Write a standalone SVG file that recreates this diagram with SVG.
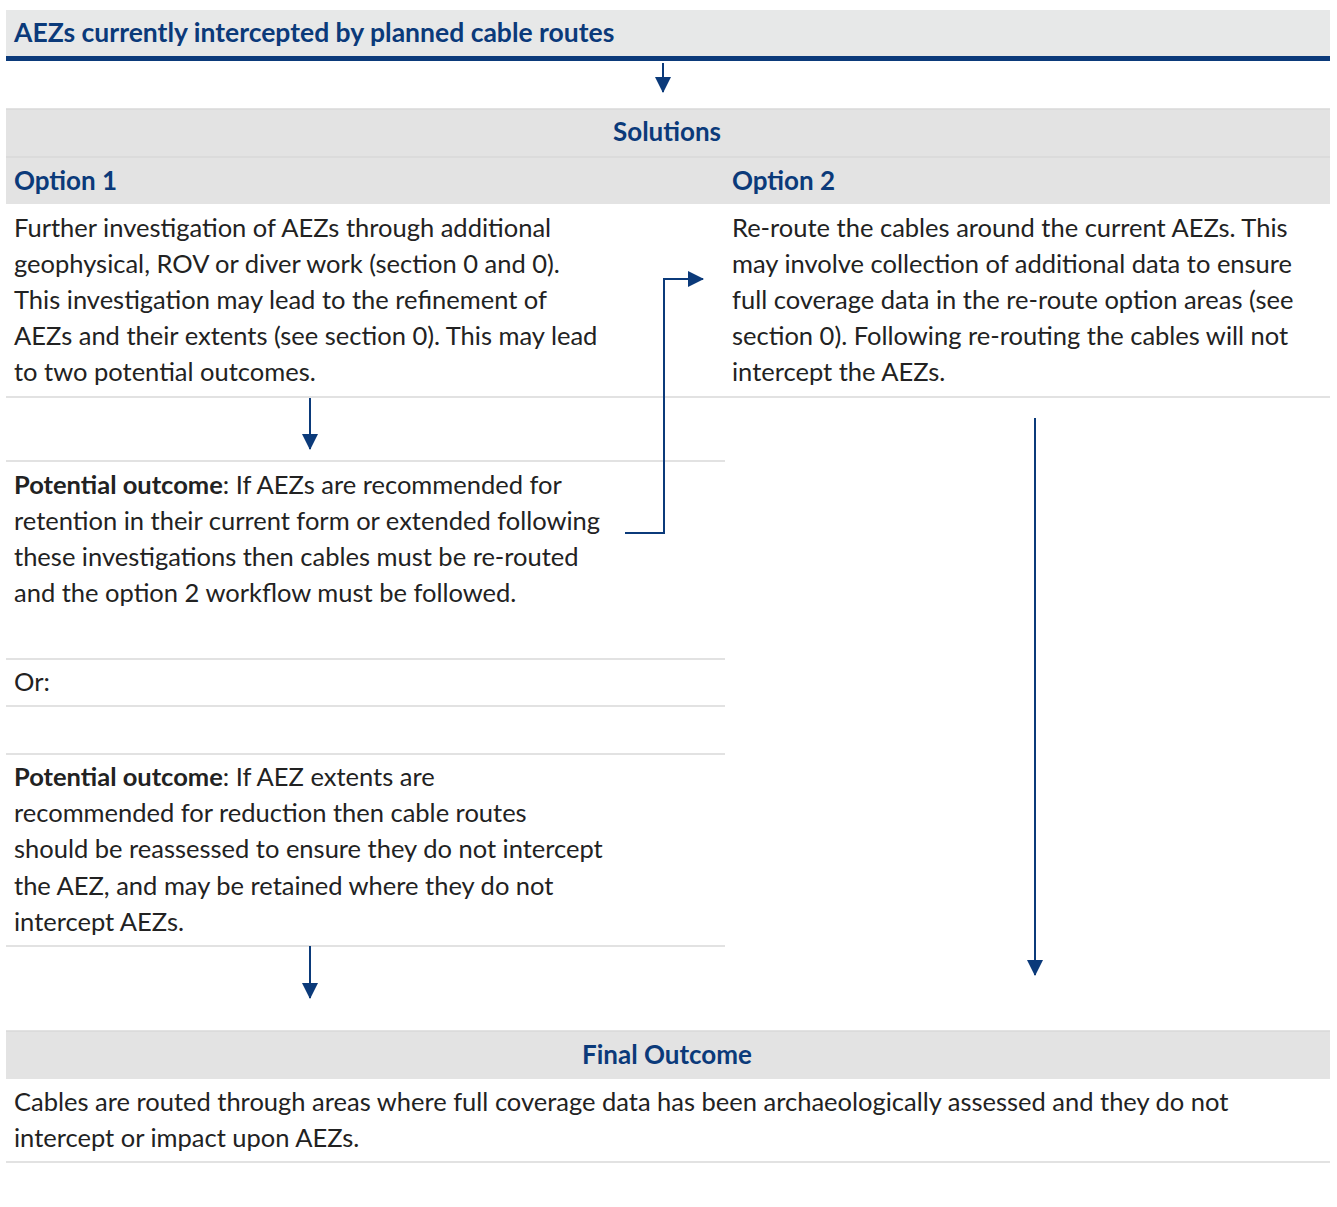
<svg xmlns="http://www.w3.org/2000/svg" width="1337" height="1207" viewBox="0 0 1337 1207">
<style>
.t{font-family:Lato,"Noto Sans","Liberation Sans",sans-serif;font-size:25.5px;fill:#222}
.h{font-family:Lato,"Noto Sans","Liberation Sans",sans-serif;font-size:26px;font-weight:bold;fill:#0b3a7a}
.ht{font-size:26.5px}
.b{font-weight:bold}
.sep{stroke:#d9d9d9;stroke-width:1.5}
.band{fill:#e3e3e3}
.con{stroke:#0b3a7a;stroke-width:2;fill:none}
</style>
<defs>
<marker id="ah2" markerWidth="16" markerHeight="16" refX="15" refY="8" orient="auto" markerUnits="userSpaceOnUse" viewBox="0 0 16 16"><path d="M0,0 L16,8 L0,16 Z" fill="#0b3a7a"/></marker>
</defs>
<rect width="1337" height="1207" fill="#fff"/>
<g id="header">
<rect x="6" y="10" width="1324" height="47" fill="#e7e8e8"/>
<rect x="6" y="56" width="1324" height="5" fill="#0b3a7a"/>
<text class="h ht" x="14" y="42">AEZs currently intercepted by planned cable routes</text>
</g>
<g id="solutions">
<rect class="band" x="6" y="109" width="1324" height="95"/>
<line class="sep" x1="6" y1="109" x2="1330" y2="109"/>
<line class="sep" x1="6" y1="157" x2="1330" y2="157"/>
<text class="h" x="667" y="141" text-anchor="middle">Solutions</text>
</g>
<g id="option1-head"><text class="h" x="14" y="190">Option 1</text></g>
<g id="option2-head"><text class="h" x="732" y="190">Option 2</text></g>
<g id="option1">
<text class="t" x="14" y="237">Further investigation of AEZs through additional</text>
<text class="t" x="14" y="273">geophysical, ROV or diver work (section 0 and 0).</text>
<text class="t" x="14" y="309">This investigation may lead to the refinement of</text>
<text class="t" x="14" y="345">AEZs and their extents (see section 0). This may lead</text>
<text class="t" x="14" y="381">to two potential outcomes.</text>
</g>
<g id="option2">
<text class="t" x="732" y="237">Re-route the cables around the current AEZs. This</text>
<text class="t" x="732" y="273">may involve collection of additional data to ensure</text>
<text class="t" x="732" y="309">full coverage data in the re-route option areas (see</text>
<text class="t" x="732" y="345">section 0). Following re-routing the cables will not</text>
<text class="t" x="732" y="381">intercept the AEZs.</text>
</g>
<line class="sep" x1="6" y1="397" x2="1330" y2="397"/>
<g id="outcome1">
<line class="sep" x1="6" y1="461" x2="725" y2="461"/>
<text class="t" x="14" y="494"><tspan class="b">Potential outcome</tspan>: If AEZs are recommended for</text>
<text class="t" x="14" y="530">retention in their current form or extended following</text>
<text class="t" x="14" y="566">these investigations then cables must be re-routed</text>
<text class="t" x="14" y="602">and the option 2 workflow must be followed.</text>
</g>
<g id="or">
<line class="sep" x1="6" y1="659" x2="725" y2="659"/>
<text class="t" x="14" y="691">Or:</text>
<line class="sep" x1="6" y1="706" x2="725" y2="706"/>
</g>
<g id="outcome2">
<line class="sep" x1="6" y1="754" x2="725" y2="754"/>
<text class="t" x="14" y="786"><tspan class="b">Potential outcome</tspan>: If AEZ extents are</text>
<text class="t" x="14" y="822">recommended for reduction then cable routes</text>
<text class="t" x="14" y="858">should be reassessed to ensure they do not intercept</text>
<text class="t" x="14" y="895">the AEZ, and may be retained where they do not</text>
<text class="t" x="14" y="931">intercept AEZs.</text>
<line class="sep" x1="6" y1="946" x2="725" y2="946"/>
</g>
<g id="final">
<rect class="band" x="6" y="1031" width="1324" height="48"/>
<line class="sep" x1="6" y1="1031" x2="1330" y2="1031"/>
<text class="h" x="667" y="1064" text-anchor="middle">Final Outcome</text>
<text class="t" x="14" y="1111">Cables are routed through areas where full coverage data has been archaeologically assessed and they do not</text>
<text class="t" x="14" y="1147">intercept or impact upon AEZs.</text>
<line class="sep" x1="6" y1="1162" x2="1330" y2="1162"/>
</g>
<g id="connectors">
<line class="con" x1="663" y1="63" x2="663" y2="92" marker-end="url(#ah2)"/>
<line class="con" x1="310" y1="398" x2="310" y2="449" marker-end="url(#ah2)"/>
<polyline class="con" points="625,533 664,533 664,279 703,279" marker-end="url(#ah2)"/>
<line class="con" x1="1035" y1="418" x2="1035" y2="975" marker-end="url(#ah2)"/>
<line class="con" x1="310" y1="946" x2="310" y2="998" marker-end="url(#ah2)"/>
</g>
</svg>
